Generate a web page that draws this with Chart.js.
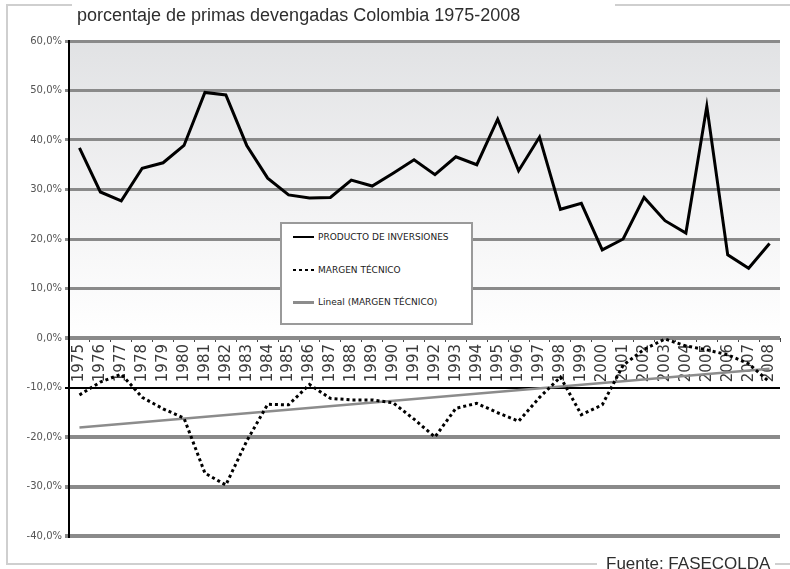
<!DOCTYPE html>
<html>
<head>
<meta charset="utf-8">
<script src="https://cdn.jsdelivr.net/npm/chart.js@4/dist/chart.umd.min.js"></script>
<style>
  html, body { margin: 0; padding: 0; background: #fff; }
  #wrap { position: relative; width: 790px; height: 569px; overflow: hidden; }
  #chart { position: absolute; left: 0; top: 0; }
  .rule { position: absolute; background: #cfcfcf; }
  .title { position: absolute; left: 77px; top: 5px; line-height: 20px; font: 18px "Liberation Sans", Arial, sans-serif; color: #2e2e2e; white-space: nowrap; }
  .source { position: absolute; left: 606px; top: 554px; line-height: 20px; font: 17px "Liberation Sans", Arial, sans-serif; color: #2e2e2e; white-space: nowrap; }
  #legend { position: absolute; left: 280px; top: 222px; width: 189px; height: 99px; border: 2px solid #9a9a9a; background: #fff; }
  #legend .item { position: absolute; left: 11px; height: 12px; display: flex; align-items: center; font: 9px "DejaVu Sans", sans-serif; color: #222; white-space: nowrap; }
  #legend .swatch { width: 21px; margin-right: 4px; }
</style>
</head>
<body>
<div id="wrap">
  <canvas id="chart" width="790" height="569"></canvas>
  <div class="rule" style="left:6px; top:4px; width:2px; height:561px;"></div>
  <div class="rule" style="left:6px; top:4px; width:66px; height:2px;"></div>
  <div class="rule" style="left:615px; top:4px; width:175px; height:2px;"></div>
  <div class="rule" style="left:6px; top:563px; width:591px; height:2px;"></div>
  <div class="rule" style="left:775px; top:563px; width:15px; height:2px;"></div>
  <div class="title">porcentaje de primas devengadas Colombia 1975-2008</div>
  <div class="source">Fuente: FASECOLDA</div>
  <div id="legend"></div>
</div>
<script>
// years 1975-2008
const years = ['1975', '1976', '1977', '1978', '1979', '1980', '1981', '1982', '1983', '1984',
    '1985', '1986', '1987', '1988', '1989', '1990', '1991', '1992', '1993', '1994',
    '1995', '1996', '1997', '1998', '1999', '2000', '2001', '2002', '2003', '2004',
    '2005', '2006', '2007', '2008'];

// % of earned premiums
const productoInversiones = [38.4, 29.5, 27.7, 34.3, 35.4, 38.9, 49.6, 49.1, 38.9, 32.3,
    28.9, 28.3, 28.4, 31.9, 30.7, 33.3, 36.0, 33.0, 36.6, 35.0,
    44.2, 33.8, 40.6, 26.0, 27.2, 17.8, 20.0, 28.4, 23.7, 21.2,
    46.8, 16.8, 14.1, 19.1];

const margenTecnico = [-11.5, -8.9, -7.3, -12.0, -14.3, -16.2, -27.3, -29.7, -20.8, -13.4,
    -13.5, -9.4, -12.2, -12.5, -12.5, -13.1, -16.4, -20.0, -14.2, -13.2,
    -15.1, -16.8, -12.0, -7.9, -15.5, -13.5, -5.5, -2.3, -0.2, -1.6,
    -2.4, -3.4, -5.2, -8.9];

// linear trend of margen tecnico, value at first and last year
const trendEnds = [-18.1, -6.2];

const yTicks = [-40, -30, -20, -10, 0, 10, 20, 30, 40, 50, 60];

const trendData = years.map((y, i) => i === 0 ? trendEnds[0] : (i === years.length - 1 ? trendEnds[1] : null));

const pct = v => v.toFixed(1).replace('.', ',') + '%';

// grey fade behind the positive part of the plot
const plotBackground = {
    id: 'plotBackground',
    beforeDraw(chart) {
        const { ctx, chartArea } = chart;
        const zero = chart.scales.y.getPixelForValue(0);
        const g = ctx.createLinearGradient(0, chartArea.top, 0, zero);
        g.addColorStop(0, '#e1e2e4');
        g.addColorStop(0.55, '#f3f3f4');
        g.addColorStop(1, '#ffffff');
        ctx.save();
        ctx.fillStyle = g;
        ctx.fillRect(chartArea.left, chartArea.top, chartArea.right - chartArea.left, zero - chartArea.top);
        ctx.restore();
    }
};

Chart.defaults.font.family = '"DejaVu Sans", sans-serif';

const chart = new Chart(document.getElementById('chart'), {
    type: 'line',
    data: {
        labels: years,
        datasets: [
            {
                label: 'PRODUCTO DE INVERSIONES',
                data: productoInversiones,
                borderColor: '#000',
                borderWidth: 3,
                pointRadius: 0,
                tension: 0
            },
            {
                label: 'MARGEN TÉCNICO',
                data: margenTecnico,
                borderColor: '#000',
                borderWidth: 3,
                borderDash: [3, 3],
                borderCapStyle: 'butt',
                pointRadius: 0,
                tension: 0
            },
            {
                label: 'Lineal (MARGEN TÉCNICO)',
                data: trendData,
                borderColor: '#8c8c8c',
                borderWidth: 2.5,
                spanGaps: true,
                pointRadius: 0
            }
        ]
    },
    options: {
        responsive: false,
        animation: false,
        layout: { padding: { top: 41, right: 10, bottom: 33, left: 0 } },
        plugins: {
            legend: { display: false },
            tooltip: { enabled: false }
        },
        scales: {
            x: {
                type: 'category',
                position: { y: 0 },
                offset: true,
                afterFit: s => { s.height = 0; },
                grid: { display: true, drawOnChartArea: false, offset: true, tickLength: 4, color: '#444', lineWidth: 1 },
                border: { display: false },
                ticks: { autoSkip: false, minRotation: 90, maxRotation: 90, padding: 2, color: '#3a3a3a', font: { size: 15 } }
            },
            y: {
                min: yTicks[0],
                max: yTicks[yTicks.length - 1],
                afterFit: s => { s.width = 69; },
                afterBuildTicks: s => { s.ticks = yTicks.map(v => ({ value: v })); },
                ticks: { padding: 3, color: '#555', font: { size: 10 }, callback: v => pct(v) },
                grid: {
                    color: c => c.tick && c.tick.value === -10 ? '#000' : '#8a8a8a',
                    lineWidth: c => {
                        if (!c.tick) return 3;
                        if (c.tick.value === -10) return 2;
                        return c.tick.value <= 0 ? 4 : 3;
                    },
                    tickLength: 4
                },
                border: { color: '#000', width: 2 }
            }
        }
    },
    plugins: [plotBackground]
});

// legend box built from the datasets
const legendEl = document.getElementById('legend');
const rowTops = [7, 40, 72];
chart.data.datasets.forEach((d, i) => {
    const item = document.createElement('div');
    item.className = 'item';
    item.style.top = rowTops[i] + 'px';
    const sw = document.createElement('span');
    sw.className = 'swatch';
    if (d.borderDash) {
        sw.style.height = '2px';
        sw.style.background = 'repeating-linear-gradient(90deg, ' + d.borderColor + ' 0 3px, transparent 3px 6px)';
    } else {
        sw.style.height = (i === 0 ? 2 : 3) + 'px';
        sw.style.background = d.borderColor;
    }
    item.appendChild(sw);
    item.appendChild(document.createTextNode(d.label));
    legendEl.appendChild(item);
});
</script>
</body>
</html>
